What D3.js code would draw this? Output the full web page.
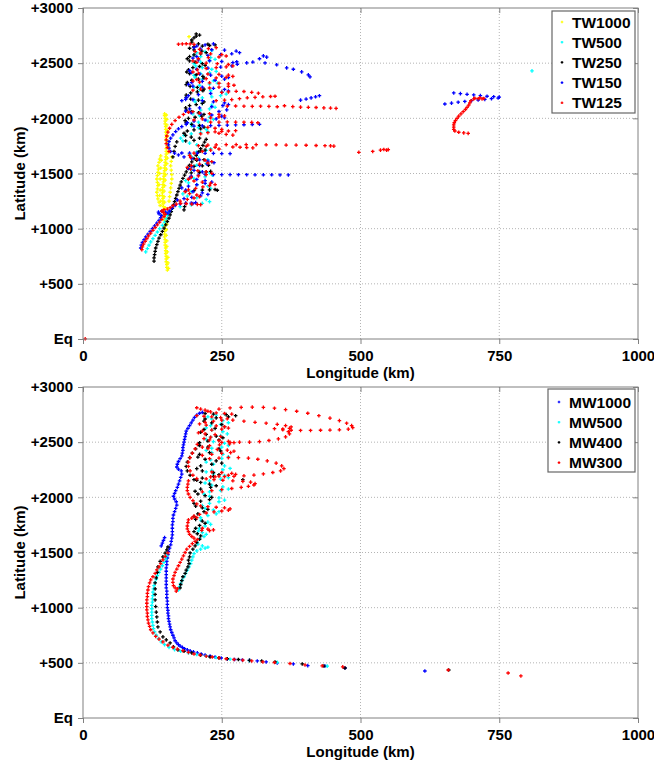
<!DOCTYPE html>
<html>
<head>
<meta charset="utf-8">
<script src="https://d3js.org/d3.v7.min.js"></script>
<style>
  body { margin: 0; background: #fff; }
  text { font-family: "Liberation Sans", Arial, sans-serif; font-weight: bold; }
</style>
</head>
<body>
<svg width="654" height="763"></svg>
<script>
// axis ticks
var xTicks = [0, 250, 500, 750, 1000];
var yTicks = [0, 500, 1000, 1500, 2000, 2500, 3000];
var yTickLabels = ["Eq", "+500", "+1000", "+1500", "+2000", "+2500", "+3000"];

// top panel series (lon km, lat km)
var twNames = ["TW1000", "TW500", "TW250", "TW150", "TW125"];
var twColors = ["#ffff00", "#00ffff", "#000000", "#0000ff", "#ff0000"];

var tw1000 = [[152,625],[151,650],[151,675],[150,700],[150,725],[150,750],[149,775],[149,800],[149,825],[148,850],[148,875],[148,900],[147,925],[147,950],[147,975],[148,1000],[148,1025],[148,1050],[147,1075],[147,1100],[146,1125],[146,1150],[145,1175],[145,1200],[144,1225],[144,1250],[144,1275],[143,1300],[143,1325],[143,1350],[144,1375],[144,1400],[145,1425],[145,1450],[146,1475],[146,1500],[147,1525],[147,1550],[148,1575],[148,1600],[149,1625],[149,1650],[150,1675],[150,1700],[150,1725],[151,1750],[151,1775],[150,1800],[150,1825],[150,1850],[149,1875],[149,1900],[149,1925],[148,1950],[148,1975],[148,2000],[147,2025],[147,2040],
  [154,640],[153,690],[153,740],[152,790],[151,840],[151,890],[150,940],[150,990],[151,1040],[150,1090],[149,1140],[148,1190],[147,1240],[146,1290],[146,1340],[147,1390],[148,1440],[149,1490],[150,1540],[151,1590],[152,1640],[153,1690],[153,1740],[153,1790],[152,1840],[152,1890],[151,1940],[151,1990],[150,2030],
  [139,1210],[137,1240],[135,1270],[134,1300],[133,1330],[134,1360],[135,1390],[134,1420],[133,1450],[134,1480],[135,1510],[136,1540],[135,1570],[137,1600],[138,1630],[140,1660],
  [140,1250],[139,1350],[139,1450],[140,1550],[141,1620],[138,1300],[137,1400],[138,1500],
  [155,1250],[156,1290],[157,1330],[158,1370],[159,1410],[160,1450],[160,1490],[159,1530],[158,1570],[159,1610],[160,1650],
  [191,2740]];

var tw500 = [[113,790],[116,820],[119,850],[122,880],[126,910],[130,940],[134,970],[138,1000],[143,1030],[147,1060],[150,1090],[152,1120],[155,1150],[160,1180],
  [175,1200],[195,1215],[215,1230],[228,1245],[222,1265],[205,1280],[188,1295],[180,1315],[195,1335],[215,1350],[230,1365],[225,1385],[205,1400],[190,1415],[185,1435],[200,1455],[220,1470],[233,1485],[228,1505],[210,1520],[195,1535],[190,1555],[205,1575],[222,1590],[232,1605],[225,1625],[208,1640],[195,1655],[192,1675],[205,1695],[222,1710],[230,1725],[222,1745],[205,1760],[192,1775],[180,1795],[176,1820],[182,1845],[195,1860],[212,1870],[225,1880],[222,1900],[208,1915],[196,1930],[195,1950],[208,1965],[225,1975],[235,1990],[228,2010],[210,2025],[198,2040],[198,2060],[212,2075],[228,2085],[238,2100],[232,2120],[215,2135],[202,2150],[200,2170],[215,2185],[232,2195],[248,2205],[258,2220],[250,2240],[230,2250],[210,2260],[200,2280],[210,2300],[228,2310],[242,2320],[235,2340],[215,2355],[202,2370],[200,2390],[212,2405],[228,2415],[240,2425],[232,2445],[215,2460],[203,2475],[200,2495],[212,2510],[228,2520],[238,2535],[230,2550],[212,2560],[200,2575],[205,2595],[220,2605],[232,2615],
  [809,2430]];

var tw250 = [[128,705],[128,735],[129,765],[130,795],[131,825],[133,855],[135,885],[137,915],[140,945],[143,975],[146,1005],[149,1035],[152,1065],[155,1095],[157,1125],[159,1155],[161,1185],[163,1215],[165,1245],[167,1275],[169,1305],[171,1335],[173,1365],[175,1395],[177,1425],[180,1455],[183,1485],[186,1515],[189,1545],[192,1575],[196,1605],[200,1635],[204,1665],[208,1695],[212,1725],[216,1755],[219,1785],[222,1810],
  [185,1340],[200,1345],[215,1350],[228,1352],[238,1355],[242,1348],[195,1505],[210,1510],[222,1515],[230,1520],[200,1565],[215,1570],[226,1575],[205,1620],[218,1625],[212,1705],[220,1712],[182,1170],[183,1200],[185,1230],
  [162,1650],[164,1700],[166,1745],[169,1787],[185,1795],[200,1800],
  [210,1820],[195,1830],[185,1845],[182,1865],[188,1885],[200,1895],[212,1905],[218,1920],[210,1935],[196,1945],[186,1960],[184,1980],[190,2000],[202,2010],[214,2020],[218,2035],[208,2050],[195,2060],[186,2075],[185,2095],[192,2115],[204,2125],[215,2135],[218,2150],[208,2165],[194,2175],[186,2190],[186,2210],[194,2230],[206,2240],[216,2250],[218,2265],[206,2280],[193,2290],[186,2305],[188,2325],[196,2345],[208,2355],[218,2365],[216,2380],[204,2395],[192,2405],[187,2420],[190,2440],[198,2460],[210,2470],[220,2480],[215,2495],[202,2510],[192,2520],[188,2540],[192,2560],[200,2575],[212,2585],[222,2595],[214,2610],[200,2620],[192,2635],[200,2650],[215,2655],[228,2660],[238,2665],[225,2672],[208,2675],[196,2690],[196,2710],[200,2730],[204,2745],[210,2755],[204,2765]];

var tw150 = [[104,825],[105,850],[107,875],[110,900],[113,925],[117,950],[121,975],[125,1000],[129,1025],[133,1050],[137,1075],[140,1100],[141,1120],[137,1135],[136,1150],[142,1158],[149,1150],[153,1140],[156,1160],[160,1185],[166,1210],[175,1225],[185,1230],[195,1232],[203,1236],[198,1228],
  [170,1260],[182,1272],[196,1284],[212,1298],[225,1310],[215,1325],[198,1335],[185,1350],[178,1370],[190,1385],[205,1398],[220,1410],[232,1422],[220,1436],[205,1446],[192,1458],[195,1475],[208,1485],[220,1492],[235,1490],[250,1490],[265,1490],[280,1489],[295,1489],[310,1488],[325,1488],[340,1488],[355,1487],[370,1487],[215,1515],[200,1528],[190,1545],[196,1562],[210,1574],[224,1586],[236,1598],[225,1612],[210,1624],[196,1636],[182,1650],[172,1668],[165,1684],[178,1686],[192,1685],[206,1684],[220,1683],[235,1682],[250,1681],[265,1680],
  [158,1700],[155,1730],[154,1760],[155,1790],[158,1820],[162,1850],[167,1880],[172,1905],[178,1925],[186,1945],
  [200,1930],[215,1932],[230,1934],[245,1936],[260,1938],[275,1940],[290,1942],[305,1944],[318,1946],
  [188,1960],[200,1975],[220,1985],[240,1995],[255,2005],[250,2020],[232,2030],[212,2040],[195,2050],[185,2065],[192,2085],[210,2095],[232,2105],[252,2115],[262,2125],[255,2140],[235,2150],[215,2160],[198,2170],[186,2185],[190,2205],[208,2215],[230,2225],[250,2235],[262,2248],[255,2262],[235,2272],[215,2282],[198,2292],[190,2308],[196,2325],[215,2335],[238,2345],[255,2355],[262,2370],[250,2382],[230,2392],[210,2402],[195,2415],[192,2432],[205,2445],[225,2455],[248,2465],[268,2475],[278,2490],[270,2505],[250,2515],[228,2522],[208,2530],[198,2545],[205,2560],[225,2570],[248,2578],[268,2585],[282,2595],[276,2610],[255,2618],[232,2622],[212,2628],[200,2640],[205,2655],[220,2665],[235,2675],
  [245,2062],[259,2077],[178,2160],[185,2172],
  [277,2513],[295,2503],[306,2510],[318,2540],[325,2566],[331,2555],[328,2502],[349,2485],[367,2457],[379,2445],[394,2421],[406,2394],[409,2376],
  [392,2165],[402,2175],[411,2185],[419,2195],[426,2205],
  [652,2130],[664,2138],[676,2146],[688,2153],[700,2160],[712,2166],[724,2172],[736,2178],[748,2184],[750,2192],[740,2196],[728,2200],[716,2206],[704,2212],[692,2218],[680,2224],[668,2230]];

var tw125 = [[4,2],
  [106,810],[107,835],[109,860],[112,885],[115,910],[118,935],[122,960],[126,985],[130,1010],[134,1035],[138,1060],[142,1085],[146,1110],[148,1130],[145,1145],[142,1160],[146,1172],[152,1178],[157,1190],[162,1208],[168,1222],[176,1230],[186,1226],[196,1222],[206,1220],[212,1218],
  [175,1250],[188,1265],[200,1278],[210,1290],[205,1305],[192,1318],[184,1335],[190,1352],[203,1365],[216,1378],[228,1390],[238,1400],[230,1412],[215,1422],[200,1432],[190,1448],[195,1465],[208,1478],[222,1490],[232,1502],[222,1515],[207,1525],[194,1538],[188,1555],[195,1572],[210,1585],[225,1595],[232,1607],[220,1620],[205,1632],[194,1645],[192,1665],[200,1685],[215,1700],[230,1712],[245,1722],[238,1738],[222,1745],[208,1752],
  [225,1758],[240,1760],[258,1762],[276,1762],[294,1762],[312,1762],[330,1760],[348,1760],[366,1758],[384,1758],[402,1756],[420,1754],[436,1752],[446,1750],[452,1748],
  [497,1692],[522,1700],[536,1712],[542,1718],[547,1712],[550,1716],
  [270,1740],[283,1738],[295,1735],[306,1732],
  [155,1700],[152,1735],[150,1770],[150,1805],[151,1840],[153,1875],[156,1910],[160,1945],[166,1980],[173,2010],[181,2035],[190,2055],
  [212,1860],[225,1870],[238,1878],[250,1882],[262,1885],[275,1888],[250,1900],[238,1910],[225,1918],[245,1865],[258,1855],[270,1848],
  [230,1965],[245,1966],[260,1967],[275,1966],[290,1965],[304,1963],[315,1960],
  [200,1985],[215,1995],[230,2005],[245,2012],[255,2022],[245,2035],[228,2042],[210,2048],[198,2060],
  [260,2110],[275,2112],[290,2110],[305,2108],[320,2110],[335,2108],[350,2105],[363,2114],[378,2106],[392,2102],[406,2100],[420,2098],[434,2095],[446,2093],[456,2090],
  [240,2160],[255,2165],[268,2170],[282,2178],[296,2186],[310,2190],[324,2195],[338,2198],[346,2200],[250,2235],[262,2240],[276,2245],[290,2243],[304,2236],[316,2228],
  [198,2255],[212,2265],[228,2275],[245,2283],[262,2290],[272,2300],[262,2312],[245,2318],[228,2322],[210,2328],[198,2338],[205,2352],[222,2360],[240,2366],[258,2372],[270,2380],[262,2392],[245,2398],[225,2402],[208,2408],[198,2420],[206,2440],[222,2452],[240,2460],[258,2466],[270,2475],[262,2488],[242,2495],[222,2500],[205,2508],[198,2520],[208,2540],[226,2550],[245,2556],[258,2565],[250,2578],[230,2585],[212,2592],[202,2605],[210,2625],[226,2632],[240,2640],
  [172,2672],[179,2674],[186,2676],[193,2674],[200,2670],
  [719,2176],[712,2178],[704,2176],[699,2160],[697,2140],[695,2120],[692,2100],[689,2080],[685,2060],[681,2040],[677,2020],[674,2000],[671,1980],[669,1960],[668,1940],[668,1920],[668,1900],[670,1885],[677,1874],[686,1868],[694,1864],
  [706,2182],[715,2186],[722,2180]];

// bottom panel series
var mwNames = ["MW1000", "MW500", "MW400", "MW300"];
var mwColors = ["#0000ff", "#00ffff", "#000000", "#ff0000"];

var mw1000 = [[616,426],[472,453],[436,471],[405,475],[379,490],[350,499],[330,508],[314,517],[300,522],[287,526],[273,530],[260,535],[249,544],[238,553],[229,562],[220,571],[213,580],[206,590],[199,600],[193,608],[188,617],[183,628],[179,640],[175,652],[172,665],[169,680],[166,700],[164,726],[162,750],[160,775],[158,800],[157,825],[156,850],[155,875],[154,900],[154,925],[153,950],[153,975],[152,1000],[152,1030],[152,1060],[151,1090],[151,1120],[151,1150],[150,1180],[150,1210],[150,1240],[150,1270],[150,1300],[150,1330],[150,1360],[151,1390],[151,1420],[152,1450],[153,1480],[154,1510],[156,1540],[158,1570],[159,1600],[160,1630],[161,1660],[161,1690],[161,1720],[161,1750],[162,1780],[162,1810],
  [141,1560],[143,1585],[145,1610],[147,1635],
  [163,1840],[165,1870],[167,1900],[169,1930],[168,1960],[165,1985],[163,2010],[165,2035],[167,2060],[170,2090],[172,2120],[174,2150],[176,2180],[178,2210],[177,2240],[172,2255],[169,2275],[170,2300],[172,2325],[175,2350],[178,2375],[179,2400],[180,2425],[180,2450],[181,2475],[182,2500],[183,2525],[184,2550],[185,2575],[186,2600],[189,2625],[192,2650],[195,2675],[198,2700],[201,2725],[205,2745],[210,2762],[215,2770]];

var mw500 = [[440,470],[350,505],[300,520],[265,533],[240,548],
  [222,562],[205,575],[190,590],[176,605],[165,620],[155,640],[147,665],[141,690],[136,720],[132,750],[129,780],[127,810],[126,840],[125,870],[124,900],[124,930],[124,960],[124,990],[124,1020],[125,1050],[125,1080],[126,1110],[126,1140],[127,1170],[128,1200],[130,1230],[132,1260],[134,1290],[137,1320],[140,1350],[143,1380],[146,1410],[149,1440],[151,1470],
  [172,1160],[174,1190],[176,1220],[179,1250],[182,1280],[185,1310],[188,1340],[191,1370],[194,1400],[196,1430],[198,1460],[200,1490],[205,1515],[212,1530],[220,1540],[225,1548],[215,1560],[207,1575],[205,1600],[210,1625],[218,1645],[222,1665],[215,1680],[208,1695],[210,1720],[220,1740],[230,1755],[225,1775],[213,1790],[212,1815],[225,1835],[240,1850],[245,1870],[235,1885],[220,1900],[215,1925],[228,1945],[245,1960],[255,1975],[245,1995],[228,2010],[218,2030],[228,2050],[248,2062],[262,2075],[252,2095],[232,2110],[220,2130],[228,2150],[248,2165],[262,2178],[255,2198],[235,2212],[222,2230],[232,2245],[252,2250],[265,2262],[255,2285],[235,2300],[222,2320],[230,2340],[250,2352],[262,2368],[252,2390],[232,2405],[222,2425],[232,2445],[250,2455],[262,2470],[255,2490],[235,2505],[222,2525],[230,2545],[248,2560],[260,2575],[252,2595],[232,2610],[222,2630],[230,2650],[248,2662],[262,2676],[252,2695],[232,2710],[225,2730],[240,2745],[255,2755]];

var mw400 = [[659,435],[472,453],[434,471],[395,490],[346,508],[322,517],[300,522],[280,530],[260,537],[245,545],[229,553],[212,570],[196,590],[182,605],[171,617],[163,645],[157,680],[150,708],[144,735],[139,780],[135,825],[134,870],[133,916],[132,960],[131,1010],[130,1070],[130,1120],[130,1170],[130,1224],[132,1270],[134,1320],[135,1370],[139,1420],[144,1460],[148,1495],[151,1524],[153,1550],
  [175,1180],[176,1210],[178,1245],[180,1280],[184,1310],[186,1340],[189,1370],[191,1400],[190,1430],[192,1460],[193,1496],[198,1530],[202,1560],[205,1590],[210,1620],[212,1650],[206,1670],[200,1690],[203,1720],[210,1745],[220,1765],[215,1785],[203,1800],[200,1825],[207,1850],[218,1870],[225,1890],[215,1905],[203,1920],[200,1945],[212,1965],[228,1980],[232,2000],[220,2015],[207,2030],[202,2055],[212,2075],[230,2090],[240,2105],[228,2120],[212,2135],[205,2155],[215,2175],[235,2190],[245,2205],[235,2225],[215,2240],[205,2260],[212,2285],[232,2300],[250,2310],[240,2330],[220,2345],[207,2365],[210,2390],[228,2405],[248,2420],[245,2440],[225,2455],[210,2470],[210,2495],[225,2510],[245,2520],[252,2540],[240,2555],[222,2570],[212,2590],[218,2615],[238,2625],[255,2640],[250,2660],[232,2675],[218,2690],[220,2710],[240,2720],[262,2730],[275,2740],[258,2750],[235,2755],[220,2760],
  [200,2160],[193,2200],[188,2240],[186,2280],[188,2320],[192,2360],[197,2400],[203,2440],[208,2480],[288,2160]];

var mw300 = [[789,381],[766,408],[658,435],[468,463],[431,472],[400,481],[373,494],[345,503],[324,508],[304,517],[288,524],[272,530],[258,537],[245,545],[233,553],[222,560],[211,571],[200,580],[190,595],[180,610],[170,625],[162,640],[153,660],[144,690],[137,715],[131,740],[126,771],[122,800],[120,830],[118,860],[117,890],[116,920],[116,950],[115,980],[115,1010],[115,1040],[115,1070],[116,1100],[116,1130],[117,1160],[118,1190],[120,1224],[122,1252],[126,1280],[130,1310],[133,1342],[137,1370],[140,1400],[144,1433],[148,1465],[153,1496],
  [168,1150],[170,1170],[166,1180],[163,1200],[162,1230],[162,1260],[164,1290],[166,1320],[169,1350],[172,1380],[175,1410],[178,1440],[181,1470],[184,1500],[187,1530],[192,1555],[197,1580],[202,1600],[206,1618],[200,1630],[196,1645],[192,1665],[190,1690],[188,1715],[188,1740],[189,1770],[190,1796],[196,1812],[205,1816],[215,1720],[225,1712],[235,1705],[228,1698],[214,1700],
  [200,1830],[210,1845],[222,1858],[236,1868],[250,1876],[262,1884],[265,1895],[255,1905],[240,1910],[225,1915],[212,1922],
  [205,1940],[198,1970],[193,2000],[190,2030],[188,2060],[188,2090],[189,2120],[190,2150],
  [215,2050],[232,2060],[250,2070],[268,2080],[285,2090],[298,2100],[308,2112],[310,2125],[302,2138],[288,2145],[270,2150],[252,2155],[236,2160],[222,2168],
  [230,2185],[245,2192],[262,2200],[275,2208],[268,2218],[250,2225],[232,2230],
  [228,2350],[245,2356],[262,2360],[280,2360],[298,2355],[315,2345],[332,2330],[348,2310],[358,2285],[362,2260],[356,2240],[342,2225],[325,2212],[308,2202],[290,2195],[272,2190],[255,2188],[238,2186],
  [205,2170],[198,2200],[193,2240],[190,2280],[190,2320],[193,2360],[197,2400],[202,2440],[206,2480],
  [215,2380],[232,2390],[250,2398],[266,2405],[272,2418],[260,2428],[242,2435],[225,2442],[215,2455],[228,2468],[246,2476],[264,2484],[272,2496],[262,2508],[245,2514],[228,2520],[218,2532],[230,2545],[248,2552],
  [360,2612],[370,2595],[372,2575],[365,2548],[352,2530],[335,2515],[318,2505],[300,2500],[282,2500],[265,2498],[250,2498],
  [225,2780],[245,2800],[265,2810],[285,2815],[305,2818],[325,2815],[345,2808],[365,2795],[385,2780],[405,2762],[425,2740],[445,2718],[462,2695],[475,2672],[484,2650],[486,2632],[478,2618],[462,2612],[445,2610],[428,2608],[410,2606],[392,2606],[375,2608],
  [270,2700],[290,2690],[310,2680],[330,2672],[350,2662],[365,2650],[375,2638],[372,2625],[360,2620],[345,2622],
  [205,2812],[212,2800],[220,2790],[230,2775],[240,2765],[255,2760],[268,2755],
  [205,2740],[218,2735],[232,2730],[248,2722],[260,2712],[250,2700],[235,2690],[220,2680],[210,2665],[222,2655],[240,2648],[255,2640],[262,2628],[250,2618],[232,2610],[215,2600],[208,2585],[220,2575],[238,2568]];

var svg = d3.select("svg");
var plotLeft = 83, plotRight = 638;
var axisGray = "#808080";

function plus(s) {
    return "M" + (-s) + ",0H" + s + "M0," + (-s) + "V" + s;
}

function drawPanel(top, bottom, names, colors, series, legend) {
    var x = d3.scaleLinear().domain([0, 1000]).range([plotLeft, plotRight]);
    var y = d3.scaleLinear().domain([0, 3000]).range([bottom, top]);
    var g = svg.append("g");

    // dotted grid
    g.selectAll(".vgrid").data(xTicks.slice(1, -1)).enter().append("line")
        .attr("x1", function(d) { return x(d); }).attr("x2", function(d) { return x(d); })
        .attr("y1", top).attr("y2", bottom)
        .attr("stroke", "#b4b4b4").attr("stroke-dasharray", "1,2");
    g.selectAll(".hgrid").data(yTicks.slice(1, -1)).enter().append("line")
        .attr("x1", plotLeft).attr("x2", plotRight)
        .attr("y1", function(d) { return y(d); }).attr("y2", function(d) { return y(d); })
        .attr("stroke", "#b4b4b4").attr("stroke-dasharray", "1,2");

    // data markers
    series.forEach(function(pts, i) {
        g.append("g").selectAll("path").data(pts).enter().append("path")
            .attr("d", plus(1.8))
            .attr("transform", function(d) { return "translate(" + x(d[0]) + "," + y(d[1]) + ")"; })
            .attr("stroke", colors[i]).attr("stroke-width", 1.3).attr("fill", "none");
    });

    // box
    g.append("rect").attr("x", plotLeft).attr("y", top)
        .attr("width", plotRight - plotLeft).attr("height", bottom - top)
        .attr("fill", "none").attr("stroke", axisGray);

    var yAxis = g.append("g").attr("transform", "translate(" + plotLeft + ",0)")
        .call(d3.axisLeft(y).tickValues(yTicks).tickSize(5).tickPadding(5)
            .tickFormat(function(d, i) { return yTickLabels[i]; }));
    var xAxis = g.append("g").attr("transform", "translate(0," + bottom + ")")
        .call(d3.axisBottom(x).tickValues(xTicks).tickSize(5).tickPadding(6).tickFormat(d3.format("d")));
    var rAxis = g.append("g").attr("transform", "translate(" + plotRight + ",0)")
        .call(d3.axisRight(y).tickValues(yTicks).tickSize(-5).tickFormat(""));
    var tAxis = g.append("g").attr("transform", "translate(0," + top + ")")
        .call(d3.axisTop(x).tickValues(xTicks).tickSize(-5).tickFormat(""));
    [yAxis, xAxis, rAxis, tAxis].forEach(function(a) {
        a.select(".domain").remove();
        a.selectAll("line").attr("stroke", axisGray);
        a.selectAll("text").attr("font-size", 15).attr("font-weight", "bold")
            .attr("font-family", "Liberation Sans, Arial, sans-serif").attr("fill", "#000");
    });

    g.append("text").attr("x", (plotLeft + plotRight) / 2).attr("y", bottom + 38.5)
        .attr("text-anchor", "middle").attr("font-size", 15).text("Longitude (km)");
    g.append("text")
        .attr("transform", "translate(25," + (top + bottom) / 2 + ") rotate(-90)")
        .attr("text-anchor", "middle").attr("font-size", 15).text("Latitude (km)");

    // legend
    var lg = g.append("g");
    lg.append("rect").attr("x", legend.x).attr("y", legend.y)
        .attr("width", legend.w).attr("height", legend.h)
        .attr("fill", "#fff").attr("stroke", "#666").attr("stroke-width", 1.2);
    names.forEach(function(n, i) {
        var cy = legend.row0 + i * legend.step;
        lg.append("path").attr("d", plus(1.3))
            .attr("transform", "translate(" + legend.mx + "," + cy + ")")
            .attr("stroke", colors[i]).attr("stroke-width", 1.2);
        lg.append("text").attr("x", legend.tx).attr("y", cy + 5.5)
            .attr("font-size", 15.5).text(n);
    });
}

drawPanel(8, 339, twNames, twColors, [tw1000, tw500, tw250, tw150, tw125],
    { x: 552, y: 11, w: 83, h: 102, row0: 22, step: 20.2, mx: 562, tx: 572 });
drawPanel(387, 718, mwNames, mwColors, [mw1000, mw500, mw400, mw300],
    { x: 548, y: 389, w: 87, h: 83, row0: 402, step: 20.2, mx: 559, tx: 569 });
</script>
</body>
</html>
